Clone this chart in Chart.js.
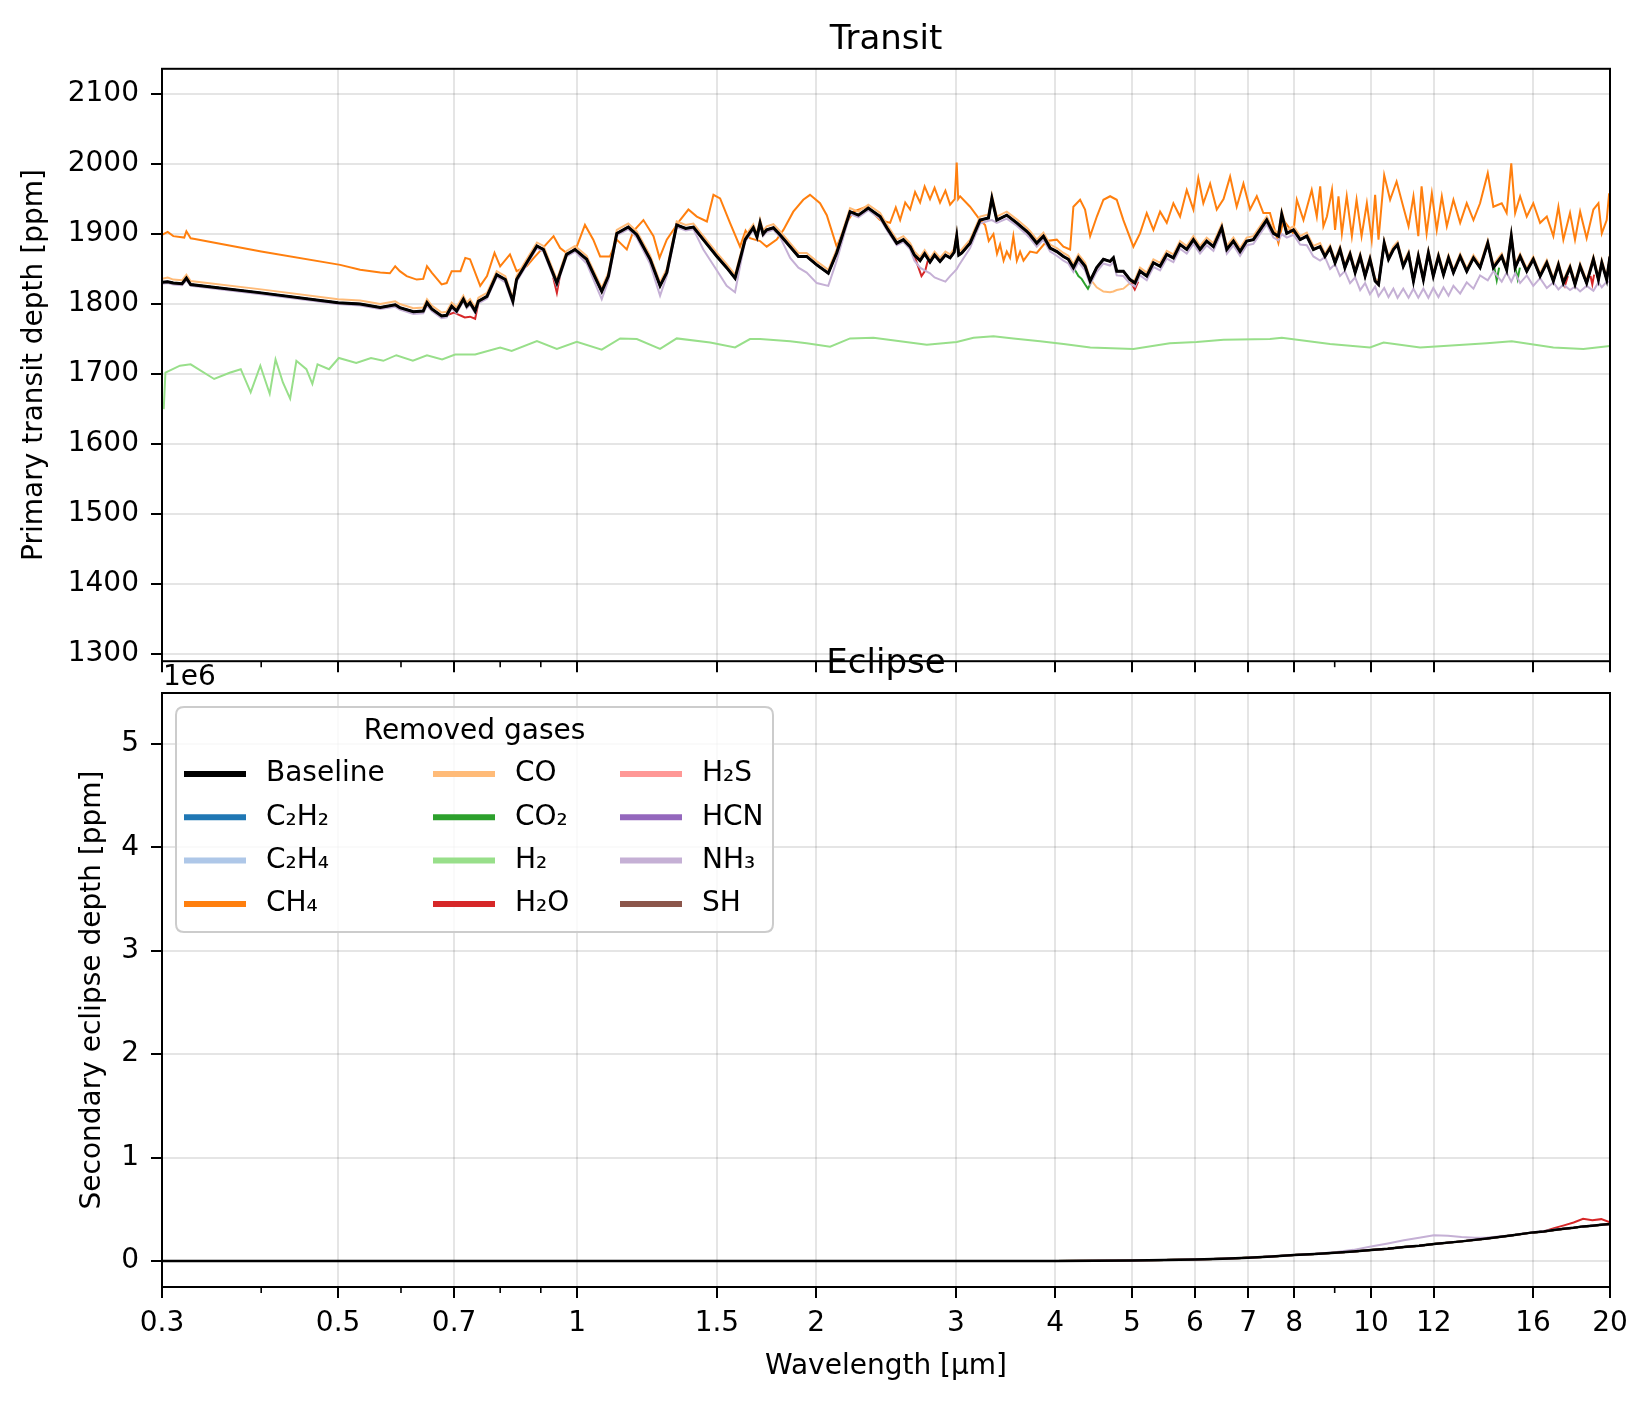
<!DOCTYPE html>
<html>
<head>
<meta charset="utf-8">
<title>Transit / Eclipse spectra</title>
<script src="https://cdn.jsdelivr.net/npm/chart.js@4.4.1/dist/chart.umd.min.js"></script>
<style>
  html, body { margin: 0; padding: 0; background: #fff; }
  #wrap { position: relative; width: 1652px; height: 1407px; }
  #transit { position: absolute; left: 0; top: 0; }
  #eclipse { position: absolute; left: 0; top: 630px; }
</style>
</head>
<body>
<div id="wrap">
  <canvas id="transit" width="1652" height="690" style="width:1652px;height:690px"></canvas>
  <canvas id="eclipse" width="1652" height="777" style="width:1652px;height:777px"></canvas>
</div>
<script>
const GASES = ['Baseline', 'C₂H₂', 'C₂H₄', 'CH₄', 'CO', 'CO₂', 'H₂', 'H₂O', 'H₂S', 'HCN', 'NH₃', 'SH'];
const COLORS = ['#000000', '#1f77b4', '#aec7e8', '#ff7f0e', '#ffbb78', '#2ca02c',
                '#98df8a', '#d62728', '#ff9896', '#9467bd', '#c5b0d5', '#8c564b'];
// lower = drawn later (on top)
const ORDER = [0, 11, 10, 9, 8, 7, 6, 5, 4, 3, 2, 1];

const X_TICKS = [0.3, 0.5, 0.7, 1, 1.5, 2, 3, 4, 5, 6, 7, 8, 10, 12, 16, 20];
const X_MINOR = [0.4, 0.6, 0.8, 0.9, 9];
const TRANSIT_TICKS = [1300, 1400, 1500, 1600, 1700, 1800, 1900, 2000, 2100];
const ECLIPSE_TICKS = [0, 1e6, 2e6, 3e6, 4e6, 5e6];

// ---- transit depth [ppm] ----
const BASE_WL = [
  0.300, 0.305, 0.310, 0.318, 0.322, 0.326, 0.400, 0.500, 0.533, 0.565, 0.590, 0.598, 0.622, 0.640, 0.647, 0.656, 0.675, 0.685, 0.695,
  0.705, 0.719, 0.726, 0.733, 0.744, 0.751, 0.770, 0.792, 0.812, 0.830, 0.839, 0.864, 0.890, 0.907, 0.943, 0.970, 0.994, 1.028, 1.074, 1.095,
  1.122, 1.160, 1.189, 1.236, 1.272, 1.297, 1.335, 1.370, 1.401, 1.442, 1.500, 1.543, 1.581, 1.612,
  1.628, 1.667, 1.685, 1.700, 1.715, 1.733, 1.767, 1.801, 1.855, 1.900, 1.946, 2.004, 2.072, 2.123, 2.207, 2.261, 2.327, 2.408, 2.455, 2.527,
  2.576, 2.627, 2.660, 2.704, 2.740, 2.783, 2.820, 2.865, 2.910, 2.950, 2.985, 3.007, 3.025, 3.052, 3.126, 3.218, 3.297, 3.330, 3.378, 3.477,
  3.579, 3.684,
  3.720, 3.793, 3.867, 3.943, 4.020, 4.098, 4.157, 4.218, 4.280, 4.364, 4.428, 4.513, 4.602, 4.691, 4.737, 4.783, 4.876, 4.971, 5.043, 5.117,
  5.218, 5.320, 5.424, 5.530, 5.637, 5.747, 5.860, 5.974, 6.090, 6.209, 6.331, 6.486, 6.582, 6.709, 6.840, 6.973, 7.109, 7.248, 7.390, 7.535,
  7.645, 7.719, 7.832, 7.986, 8.142, 8.301, 8.461, 8.627,
  8.75, 8.88, 9.01, 9.14, 9.27, 9.41, 9.55, 9.69, 9.83, 9.97, 10.12, 10.22, 10.39, 10.52, 10.67, 10.80, 10.98, 11.15, 11.31, 11.47,
  11.64, 11.81, 11.98, 12.16, 12.34, 12.52, 12.70, 12.95, 13.20, 13.46, 13.72, 14.03, 14.26, 14.61, 14.82, 15.02, 15.19, 15.41, 15.71, 16.01,
  16.33, 16.65, 16.97, 17.22, 17.47, 17.81, 18.07, 18.34, 18.69, 19.06, 19.34, 19.53, 19.81, 20.0
];
const BASE_PPM = [
  1831, 1832, 1830, 1829, 1837, 1828, 1816, 1802, 1800, 1795, 1799, 1795, 1789, 1790, 1802, 1793, 1783, 1784, 1797,
  1790, 1807, 1797, 1802, 1790, 1804, 1811, 1842, 1835, 1804, 1835, 1859, 1883, 1878, 1830, 1871, 1878, 1864, 1818, 1840,
  1901, 1910, 1899, 1864, 1826, 1845, 1913, 1908, 1910, 1892, 1868, 1852, 1837, 1873,
  1892, 1909, 1896, 1916, 1900, 1906, 1909, 1899, 1882, 1868, 1868, 1856, 1844, 1873, 1932, 1927, 1937, 1925, 1909, 1887,
  1892, 1882, 1870, 1862, 1872, 1860, 1870, 1861, 1870, 1866, 1874, 1897, 1870, 1873, 1887, 1920, 1923, 1951, 1920, 1927,
  1916, 1904,
  1899, 1887, 1897, 1880, 1875, 1868, 1864, 1852, 1866, 1854, 1833, 1852, 1864, 1861, 1866, 1847, 1847, 1835, 1830, 1847,
  1840, 1859, 1854, 1871, 1866, 1885, 1878, 1892, 1878, 1890, 1882, 1909, 1878, 1890, 1875, 1890, 1892, 1906, 1920, 1901,
  1897, 1928, 1901, 1906, 1892, 1897, 1878, 1882,
  1868, 1880, 1859, 1878, 1852, 1871, 1845, 1868, 1840, 1864, 1833, 1828, 1887, 1864, 1878, 1885, 1854, 1871, 1833, 1868,
  1835, 1873, 1840, 1868, 1842, 1866, 1845, 1868, 1847, 1866, 1852, 1887, 1852, 1868, 1849, 1897, 1852, 1868, 1847, 1864,
  1840, 1859, 1833, 1856, 1830, 1852, 1828, 1854, 1830, 1864, 1835, 1859, 1835, 1868
];
// CO and NH3 follow the baseline grid
const CO_PPM = [
  1836, 1838, 1835, 1834, 1842, 1833, 1821, 1807, 1805, 1800, 1804, 1800, 1794, 1795, 1807, 1798, 1788, 1789, 1802,
  1795, 1812, 1802, 1807, 1795, 1809, 1816, 1847, 1840, 1809, 1840, 1864, 1888, 1883, 1835, 1876, 1883, 1869, 1823, 1845,
  1906, 1915, 1904, 1869, 1831, 1850, 1918, 1913, 1915, 1897, 1873, 1857, 1842, 1878,
  1897, 1914, 1901, 1921, 1905, 1911, 1914, 1904, 1887, 1873, 1873, 1861, 1849, 1878, 1937, 1932, 1942, 1930, 1914, 1892,
  1897, 1887, 1875, 1867, 1877, 1865, 1875, 1866, 1875, 1871, 1879, 1902, 1875, 1878, 1892, 1925, 1928, 1956, 1925, 1932,
  1921, 1909,
  1904, 1892, 1902, 1885, 1880, 1873, 1869, 1857, 1871, 1859, 1836, 1824, 1818, 1817, 1818, 1820, 1822, 1830, 1835, 1852,
  1845, 1864, 1859, 1876, 1871, 1890, 1883, 1897, 1883, 1895, 1887, 1914, 1883, 1895, 1880, 1895, 1897, 1911, 1925, 1906,
  1902, 1933, 1906, 1911, 1897, 1902, 1883, 1887,
  1872, 1884, 1863, 1882, 1856, 1875, 1849, 1872, 1844, 1868, 1837, 1832, 1891, 1868, 1882, 1889, 1858, 1875, 1837, 1872,
  1839, 1877, 1844, 1872, 1846, 1870, 1849, 1872, 1851, 1870, 1856, 1891, 1856, 1872, 1853, 1901, 1856, 1872, 1851, 1868,
  1844, 1863, 1837, 1860, 1834, 1856, 1832, 1858, 1834, 1868, 1839, 1863, 1839, 1872
];
const NH3_PPM = [
  1829, 1830, 1828, 1827, 1834, 1826, 1814, 1800, 1798, 1793, 1796, 1792, 1786, 1787, 1798, 1790, 1780, 1781, 1794,
  1787, 1804, 1794, 1799, 1787, 1801, 1808, 1839, 1831, 1800, 1832, 1856, 1880, 1875, 1826, 1868, 1875, 1858, 1807, 1834,
  1898, 1907, 1895, 1857, 1812, 1840, 1910, 1905, 1907, 1878, 1848, 1826, 1817, 1866,
  1889, 1906, 1893, 1913, 1897, 1903, 1906, 1896, 1866, 1852, 1845, 1830, 1826, 1862, 1929, 1924, 1934, 1922, 1906, 1884,
  1889, 1878, 1862, 1852, 1848, 1844, 1838, 1835, 1832, 1840, 1846, 1850, 1855, 1862, 1880, 1915, 1919, 1920, 1916, 1922,
  1912, 1899,
  1894, 1882, 1892, 1875, 1869, 1862, 1858, 1846, 1860, 1848, 1828, 1846, 1858, 1855, 1860, 1841, 1840, 1829, 1825, 1841,
  1834, 1853, 1848, 1865, 1860, 1879, 1872, 1886, 1872, 1884, 1876, 1903, 1872, 1884, 1869, 1884, 1886, 1900, 1914, 1895,
  1891, 1900, 1895, 1899, 1885, 1884, 1868, 1862,
  1867, 1850, 1857, 1840, 1847, 1830, 1838, 1820, 1830, 1814, 1825, 1811, 1823, 1810, 1822, 1809, 1822, 1809, 1822, 1809,
  1822, 1809, 1823, 1810, 1824, 1812, 1826, 1815, 1831, 1822, 1841, 1834, 1847, 1832, 1845, 1832, 1844, 1830, 1841, 1826,
  1837, 1823, 1831, 1821, 1828, 1820, 1825, 1818, 1826, 1819, 1831, 1824, 1832, 1832
];

const CH4_WL = [
  0.300, 0.305, 0.310, 0.320, 0.322, 0.326, 0.330, 0.400, 0.503, 0.533, 0.565, 0.581, 0.590, 0.598, 0.610, 0.628, 0.640, 0.647, 0.656, 0.675,
  0.685, 0.695, 0.713,
  0.723, 0.733, 0.755, 0.770, 0.787, 0.800, 0.823, 0.839, 0.864, 0.882, 0.934, 0.952, 0.975, 0.999, 1.023, 1.048, 1.069, 1.100, 1.122, 1.155,
  1.177, 1.212, 1.248, 1.270, 1.297, 1.348, 1.381, 1.415, 1.457, 1.485, 1.514, 1.558, 1.604, 1.630, 1.651,
  1.700, 1.733, 1.784, 1.819, 1.872, 1.927, 1.965, 2.023, 2.063, 2.123, 2.186, 2.228, 2.317, 2.408, 2.479, 2.520, 2.552, 2.590, 2.627, 2.665,
  2.704, 2.740, 2.783, 2.820, 2.865, 2.910, 2.950, 2.990, 3.007, 3.020, 3.037, 3.126, 3.218, 3.265, 3.300, 3.345, 3.380, 3.410, 3.445, 3.477,
  3.510, 3.544, 3.580, 3.614, 3.650,
  3.720, 3.793, 3.904, 4.020, 4.098, 4.178, 4.218, 4.301, 4.363, 4.428, 4.515, 4.602, 4.692, 4.783, 4.876, 5.020, 5.117, 5.218, 5.320, 5.424,
  5.530, 5.637, 5.747, 5.860, 5.974, 6.060, 6.149, 6.271, 6.393, 6.520, 6.645, 6.774, 6.907, 7.041, 7.180, 7.318, 7.460, 7.645, 7.756, 7.983,
  8.064, 8.221, 8.420, 8.545, 8.630,
  8.71, 8.80, 8.93, 9.01, 9.10, 9.19, 9.32, 9.46, 9.59, 9.73, 9.88, 10.02, 10.12, 10.22, 10.39, 10.57, 10.77, 10.98, 11.15, 11.31,
  11.47, 11.58, 11.75, 11.93, 12.10, 12.28, 12.46, 12.70, 12.95, 13.20, 13.46, 13.72, 14.03, 14.26, 14.61, 14.82, 15.02, 15.19, 15.41, 15.71,
  16.01, 16.33, 16.65, 16.97, 17.22, 17.47, 17.81, 18.07, 18.34, 18.69, 19.06, 19.34, 19.53, 19.81, 19.95, 20.0
];
const CH4_PPM = [
  1899, 1903, 1897, 1895, 1904, 1894, 1893, 1875, 1856, 1849, 1845, 1844, 1854, 1847, 1840, 1835, 1836, 1854, 1845, 1828,
  1830, 1847, 1847,
  1866, 1864, 1826, 1840, 1873, 1854, 1871, 1847, 1854, 1866, 1897, 1880, 1871, 1882, 1913, 1892, 1868, 1868, 1892, 1878,
  1904, 1920, 1897, 1866, 1892, 1920, 1935, 1925, 1918, 1956, 1951, 1916, 1882, 1905, 1894,
  1890, 1882, 1892, 1906, 1932, 1949, 1956, 1944, 1927, 1882, 1916, 1932, 1939, 1920, 1916, 1938, 1920, 1945, 1935, 1960,
  1945, 1968, 1950, 1966, 1945, 1962, 1942, 1950, 2002, 1950, 1954, 1939, 1920, 1913, 1890, 1900, 1872, 1885, 1862, 1875,
  1866, 1897, 1862, 1875, 1862,
  1875, 1873, 1890, 1892, 1882, 1878, 1939, 1949, 1935, 1897, 1925, 1949, 1954, 1949, 1920, 1882, 1901, 1930, 1906, 1932,
  1916, 1944, 1925, 1963, 1935, 1980, 1944, 1972, 1935, 1950, 1982, 1939, 1972, 1935, 1954, 1930, 1930, 1887, 1920, 1901,
  1949, 1920, 1963, 1925, 1968,
  1911, 1925, 1963, 1906, 1954, 1901, 1954, 1897, 1949, 1897, 1944, 1892, 1956, 1892, 1984, 1949, 1975, 1939, 1911, 1954,
  1897, 1968, 1901, 1958, 1906, 1954, 1911, 1949, 1916, 1944, 1920, 1944, 1987, 1939, 1944, 1930, 2001, 1930, 1954, 1925,
  1944, 1916, 1925, 1897, 1939, 1892, 1930, 1892, 1932, 1894, 1935, 1944, 1901, 1920, 1958, 1944
];

const H2_WL = [
  0.3015, 0.3030, 0.316, 0.326, 0.349, 0.365, 0.377, 0.388, 0.399, 0.410, 0.417, 0.426, 0.435, 0.443, 0.456, 0.464, 0.471, 0.487, 0.501, 0.527,
  0.550, 0.570, 0.592, 0.621, 0.647, 0.676, 0.702, 0.744, 0.800, 0.827, 0.890, 0.943, 0.999, 1.074, 1.133, 1.189, 1.272, 1.335, 1.471, 1.581,
  1.651, 1.700, 1.855, 1.946, 2.083, 2.207, 2.362, 2.552, 2.757, 3.007, 3.157, 3.345, 3.544, 3.830, 4.100, 4.430, 5.020, 5.580, 6.030, 6.520,
  7.460, 7.720, 8.880, 9.970, 10.37, 11.53, 13.99, 15.04, 16.97, 18.51, 20.0
];
const H2_PPM = [
  1650, 1702, 1712, 1714, 1693, 1702, 1707, 1674, 1712, 1672, 1721, 1688, 1665, 1719, 1707, 1686, 1714, 1707, 1723, 1716,
  1723, 1719, 1727, 1719, 1727, 1721, 1728, 1728, 1738, 1733, 1747, 1736, 1746, 1735, 1751, 1750, 1736, 1751, 1745, 1738,
  1750, 1750, 1747, 1744, 1739, 1751, 1752, 1747, 1742, 1746, 1752, 1754, 1751, 1747, 1743, 1738, 1736, 1744, 1746, 1749,
  1750, 1752, 1743, 1738, 1745, 1738, 1744, 1747, 1738, 1736, 1740
];

// H2O and CO2 only show where they leave the baseline (null = gap)
const H2O_WL = [0.685, 0.700, 0.712, 0.722, 0.733, 0.744, 0.751, 0.800, 0.933, 0.943, 0.952, 1.500, 2.640, 2.680, 2.715,
                2.745, 2.765, 4.000, 4.990, 5.040, 5.090, 10.00, 17.40, 17.55, 17.70, 18.00, 18.90, 19.00, 19.10];
const H2O_PPM = [1784, 1788, 1784, 1781, 1782, 1779, 1802, null, 1838, 1816, 1842, null, 1878, 1858, 1840,
                 1848, 1862, null, 1830, 1821, 1832, null, 1838, 1826, 1840, null, 1840, 1828, 1842];
const CO2_WL = [4.157, 4.218, 4.250, 4.280, 4.320, 4.364, 4.400, 4.428, 4.450, 10.0, 14.30, 14.40, 14.50, 15.0, 15.20, 15.30, 15.40];
const CO2_PPM = [1864, 1853, 1846, 1840, 1836, 1828, 1822, 1828, 1838, null, 1852, 1834, 1852, null, 1852, 1836, 1852];

// ---- eclipse depth [ppm] ----
const EC_WL = [0.3, 0.5, 1, 2, 3, 3.5, 4, 4.5, 5, 5.5, 6, 6.5, 7, 7.5, 8, 8.5, 9, 9.5, 10, 10.5,
               11, 11.5, 12, 13, 14, 15, 16, 16.5, 17, 17.5, 18, 18.5, 19, 19.5, 20];
const EC_BASE = [0, 0, 0, 0, 300, 600, 1500, 3000, 6000, 10000, 16000, 23000, 32000, 44000, 58000, 68000, 80000, 92000, 106000, 118000,
                 135000, 148000, 164000, 190000, 217000, 246000, 277000, 285000, 300000, 312000, 322000, 335000, 342000, 350000, 357000];
const EC_NH3_WL = [0.3, 3, 4, 5, 6, 7, 8, 8.5, 9, 9.5, 10, 10.5, 11, 11.5, 12, 12.5, 13, 13.5, 14, 15, 16, 17, 18, 19, 20];
const EC_NH3 = [0, 0, 1500, 6000, 16000, 32000, 58000, 70000, 86000, 108000, 140000, 170000, 200000, 225000, 250000,
                245000, 232000, 225000, 228000, 248000, 278000, 302000, 324000, 344000, 358000];
const EC_H2O_WL = [16.5, 17, 17.5, 18, 18.5, 19, 19.5, 20];
const EC_H2O = [285000, 318000, 345000, 372000, 408000, 395000, 405000, 375000];

const FONT = '"DejaVu Sans", sans-serif';
Chart.defaults.font.family = FONT;
Chart.defaults.font.size = 28;
Chart.defaults.color = '#000';

const pairs = (xs, ys) => xs.map((x, i) => ({ x: x, y: ys[i] }));

const base = pairs(BASE_WL, BASE_PPM);
const transitSeries = [
  base,
  base,
  base,
  pairs(CH4_WL, CH4_PPM),
  pairs(BASE_WL, CO_PPM),
  pairs(CO2_WL, CO2_PPM),
  pairs(H2_WL, H2_PPM),
  pairs(H2O_WL, H2O_PPM),
  base,
  base,
  pairs(BASE_WL, NH3_PPM),
  base
];

const ecBase = pairs(EC_WL, EC_BASE);
const eclipseSeries = [
  ecBase, ecBase, ecBase, ecBase, ecBase, ecBase, ecBase,
  pairs(EC_H2O_WL, EC_H2O),
  ecBase, ecBase,
  pairs(EC_NH3_WL, EC_NH3),
  ecBase
];

function makeDatasets(series, baseWidth) {
  return GASES.map((name, i) => ({
    label: name,
    data: series[i],
    borderColor: COLORS[i],
    backgroundColor: COLORS[i],
    borderWidth: i === 0 ? baseWidth : 2,
    pointRadius: 0,
    tension: 0,
    fill: false,
    spanGaps: false,
    order: ORDER[i]
  }));
}

const gridStyle = {
  color: 'rgba(0, 0, 0, 0.1)',
  lineWidth: 2,
  tickColor: '#000',
  tickLength: 11,
  tickWidth: 2
};

function xAxis(showLabels, height, title) {
  return {
    type: 'logarithmic',
    min: 0.3,
    max: 20,
    afterBuildTicks: (scale) => { scale.ticks = X_TICKS.map((v) => ({ value: v })); },
    afterFit: (scale) => { scale.height = height; },
    ticks: {
      display: showLabels,
      autoSkip: false,
      maxRotation: 0,
      padding: 9,
      callback: (v) => String(v)
    },
    grid: gridStyle,
    border: { display: false },
    title: title
  };
}

function yAxis(min, max, ticks, fmt, title) {
  return {
    type: 'linear',
    min: min,
    max: max,
    afterBuildTicks: (scale) => { scale.ticks = ticks.map((v) => ({ value: v })); },
    afterFit: (scale) => { scale.width = 162; },
    ticks: { padding: 12, callback: fmt },
    grid: gridStyle,
    border: { display: false },
    title: title
  };
}

// axes frame + minor ticks on the log axis
const framePlugin = {
  id: 'frame',
  afterDraw(chart) {
    const ctx = chart.ctx;
    const a = chart.chartArea;
    const xs = chart.scales.x;
    ctx.save();
    ctx.strokeStyle = '#000';
    ctx.lineWidth = 1.6;
    X_MINOR.forEach((v) => {
      const px = xs.getPixelForValue(v);
      ctx.beginPath();
      ctx.moveTo(px, a.bottom);
      ctx.lineTo(px, a.bottom + 6);
      ctx.stroke();
    });
    ctx.lineWidth = 2;
    ctx.strokeRect(a.left, a.top, a.right - a.left, a.bottom - a.top);
    ctx.restore();
  }
};

function roundRect(ctx, x, y, w, h, r) {
  ctx.beginPath();
  ctx.moveTo(x + r, y);
  ctx.lineTo(x + w - r, y);
  ctx.quadraticCurveTo(x + w, y, x + w, y + r);
  ctx.lineTo(x + w, y + h - r);
  ctx.quadraticCurveTo(x + w, y + h, x + w - r, y + h);
  ctx.lineTo(x + r, y + h);
  ctx.quadraticCurveTo(x, y + h, x, y + h - r);
  ctx.lineTo(x, y + r);
  ctx.quadraticCurveTo(x, y, x + r, y);
  ctx.closePath();
}

// legend box inside the eclipse axes, plus the 1e6 offset label
const gasLegend = {
  id: 'gasLegend',
  afterDraw(chart) {
    const ctx = chart.ctx;
    const a = chart.chartArea;
    ctx.save();

    ctx.font = '28px ' + FONT;
    ctx.fillStyle = '#000';
    ctx.textAlign = 'left';
    ctx.textBaseline = 'alphabetic';
    ctx.fillText('1e6', a.left + 1, a.top - 8);

    const bx = a.left + 14, by = a.top + 14, bw = 597, bh = 225;
    roundRect(ctx, bx, by, bw, bh, 8);
    ctx.fillStyle = 'rgba(255, 255, 255, 0.8)';
    ctx.fill();
    ctx.strokeStyle = '#cccccc';
    ctx.lineWidth = 2;
    ctx.stroke();

    ctx.fillStyle = '#000';
    ctx.textAlign = 'center';
    ctx.textBaseline = 'middle';
    ctx.fillText('Removed gases', bx + bw / 2, a.top + 39);

    const colX = [a.left + 22, a.left + 271, a.left + 458];
    ctx.textAlign = 'left';
    GASES.forEach((name, i) => {
      const col = Math.floor(i / 4);
      const row = i % 4;
      const y = a.top + 81 + row * 43.3;
      const x = colX[col];
      ctx.strokeStyle = COLORS[i];
      ctx.lineWidth = 6;
      ctx.beginPath();
      ctx.moveTo(x, y);
      ctx.lineTo(x + 62, y);
      ctx.stroke();
      ctx.fillStyle = '#000';
      ctx.fillText(name, x + 82, y);
    });
    ctx.restore();
  }
};

new Chart(document.getElementById('transit'), {
  type: 'line',
  data: { datasets: makeDatasets(transitSeries, 3) },
  options: {
    responsive: false,
    animation: false,
    events: [],
    layout: { padding: { left: 0, right: 42, top: 0, bottom: 0 } },
    plugins: {
      legend: { display: false },
      tooltip: { enabled: false },
      title: {
        display: true,
        text: 'Transit',
        fullSize: false,
        font: { size: 34, weight: 'normal' },
        padding: { top: 20, bottom: 8 }
      }
    },
    scales: {
      x: xAxis(false, 27, { display: false }),
      y: yAxis(1290, 2136, TRANSIT_TICKS, (v) => String(v), {
        display: true,
        text: 'Primary transit depth [ppm]',
        font: { size: 28 },
        padding: { top: 18, bottom: 0 }
      })
    }
  },
  plugins: [framePlugin]
});

new Chart(document.getElementById('eclipse'), {
  type: 'line',
  data: { datasets: makeDatasets(eclipseSeries, 2.5) },
  options: {
    responsive: false,
    animation: false,
    events: [],
    layout: { padding: { left: 0, right: 42, top: 0, bottom: 0 } },
    plugins: {
      legend: { display: false },
      tooltip: { enabled: false },
      title: {
        display: true,
        text: 'Eclipse',
        fullSize: false,
        font: { size: 34, weight: 'normal' },
        padding: { top: 13.6, bottom: 8.6 }
      }
    },
    scales: {
      x: xAxis(true, 120, {
        display: true,
        text: 'Wavelength [μm]',
        font: { size: 28 },
        padding: { top: 0, bottom: 23 }
      }),
      y: yAxis(-251000, 5491000, ECLIPSE_TICKS, (v) => String(v / 1e6), {
        display: true,
        text: 'Secondary eclipse depth [ppm]',
        font: { size: 28 },
        padding: { top: 76, bottom: 0 }
      })
    }
  },
  plugins: [framePlugin, gasLegend]
});
</script>
</body>
</html>
